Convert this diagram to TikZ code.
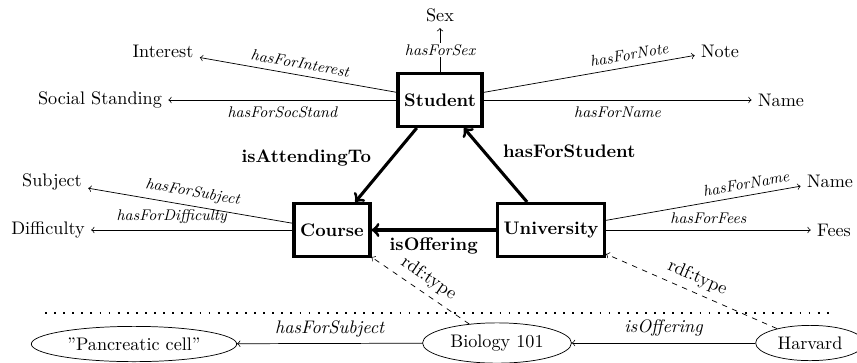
\documentclass[tikz,border=0pt]{standalone}
\usepackage{amsmath}
\usepackage{tikz}
\usetikzlibrary{shapes.geometric}

\begin{document}
\begin{tikzpicture}[x=0.55pt,y=-0.55pt,
  class/.style={draw,line width=1.8pt,font=\bfseries,minimum height=29pt},
  inst/.style={draw,ellipse},
  attr/.style={->},
  rel/.style={->,line width=1.7pt},
  typeof/.style={->,dashed},
  lbl/.style={font=\fontsize{8.5}{10}\selectfont\itshape},
  rlbl/.style={font=\bfseries}]
  \useasboundingbox (0,0) rectangle (857,362);
  % classes
  \node[class] (student) at (440,100) {Student};
  \node[class] (course) at (332,230) {Course};
  \node[class] (univ) at (551,230) {University};
  % attributes
  \node (sex) at (440,15) {Sex};
  \node (interest) at (163,51) {Interest};
  \node (socstand) at (100,100) {Social Standing};
  \node (note) at (720,51) {Note};
  \node (name) at (781,100) {Name};
  \node (subject) at (52,182) {Subject};
  \node (difficulty) at (48,230) {Difficulty};
  \node (uname) at (830,181) {Name};
  \node (fees) at (834,230) {Fees};
  % instances
  \node[inst] (pancreatic) at (134,344) {''Pancreatic cell''};
  \node[inst] (biology) at (497,343) {Biology 101};
  \node[inst] (harvard) at (810,343) {Harvard};
  \coordinate (sepl) at (45,313);
  \coordinate (sepr) at (835,313);

  \draw[attr] (student) -- node[lbl,fill=white,inner sep=1pt] {hasForSex} (sex);
  \draw[attr] (student) -- node[lbl,above,sloped] {hasForInterest} (interest);
  \draw[attr] (student) -- node[lbl,below] {hasForSocStand} (socstand);
  \draw[attr] (student) -- node[lbl,above,sloped,pos=0.7] {hasForNote} (note);
  \draw[attr] (student) -- node[lbl,below] {hasForName} (name);
  \draw[attr] (course) -- node[lbl,above,sloped] {hasForSubject} (subject);
  \draw[attr] (course) -- node[lbl,above,pos=0.6] {hasForDifficulty} (difficulty);
  \draw[attr] (univ) -- node[lbl,above,sloped,pos=0.73] {hasForName} (uname);
  \draw[attr] (univ) -- node[lbl,above] {hasForFees} (fees);

  \draw[rel] (student) -- node[rlbl,above left,pos=0.62] {isAttendingTo} (course);
  \draw[rel] (univ) -- node[rlbl,above right] {hasForStudent} (student);
  \draw[rel] (univ) -- node[rlbl,below] {isOffering} (course);

  \draw[loosely dotted,line width=1pt] (sepl) -- (sepr);

  \draw[typeof] (biology) -- node[above,sloped] {rdf:type} (course);
  \draw[typeof] (harvard) -- node[above,sloped] {rdf:type} (univ);
  \draw[attr] (biology) -- node[above,font=\itshape] {hasForSubject} (pancreatic);
  \draw[attr] (harvard) -- node[above,font=\itshape] {isOffering} (biology);
\end{tikzpicture}
\end{document}
